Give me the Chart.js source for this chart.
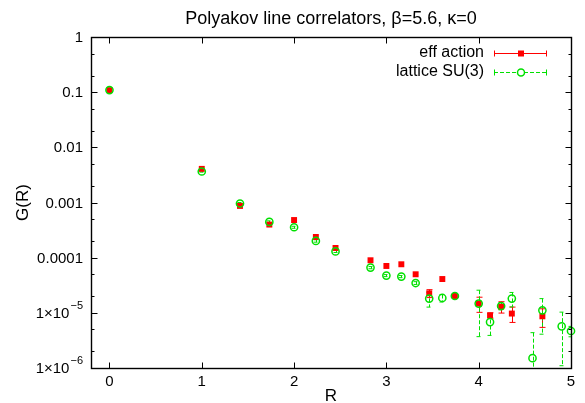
<!DOCTYPE html>
<html>
<head>
<meta charset="utf-8">
<script src="https://cdn.jsdelivr.net/npm/chart.js@4.4.1/dist/chart.umd.min.js"></script>
<style>
  html, body { margin: 0; padding: 0; background: #fff; }
  #wrap { width: 585px; height: 403px; }
</style>
</head>
<body>
<div id="wrap"><canvas id="corr" width="585" height="403"></canvas></div>
<script>
'use strict';

// ---------------------------------------------------------------------------
// data
// ---------------------------------------------------------------------------

const TITLE   = 'Polyakov line correlators, β=5.6, κ=0';
const X_LABEL = 'R';
const Y_LABEL = 'G(R)';

const EFF_LABEL = 'eff action';
const LAT_LABEL = 'lattice SU(3)';

// eff action
const effR   = [0, 1, 1.414, 1.732, 2, 2.236, 2.449, 2.828, 3, 3.162, 3.317, 3.464, 3.606, 3.742, 4, 4.123, 4.243, 4.359, 4.690];
const effG   = [0.109, 0.00407, 0.000867, 0.000398, 0.000481, 0.000237, 0.000150, 8.97e-5, 7.07e-5, 7.59e-5, 5.0e-5,
                2.26e-5, 4.1e-5, 2.02e-5, 1.47e-5, 9.0e-6, 1.29e-5, 9.7e-6, 8.65e-6];
const effErr = [0, 0, 0, 0, 0, 0, 0, 0, 0, 0, 0,
                3.7e-6, 0, 1.0e-6, 4.5e-6, 1.0e-6, 3.0e-6, 3.0e-6, 3.2e-6];

// lattice SU(3)
const latR   = [0, 1, 1.414, 1.732, 2, 2.236, 2.449, 2.828, 3, 3.162, 3.317, 3.464, 3.606, 3.742, 4, 4.123, 4.243, 4.359, 4.583, 4.690, 4.899, 5];
const latG   = [0.109, 0.00365, 0.00096, 0.000445, 0.000356, 0.000201, 0.000130, 6.6e-5, 4.73e-5, 4.54e-5, 3.47e-5,
                1.81e-5, 1.86e-5, 2.02e-5, 1.47e-5, 6.8e-6, 1.33e-5, 1.81e-5, 1.51e-6, 1.11e-5, 5.7e-6, 4.68e-6];
const latErr = [0.002, 1e-4, 4e-5, 2e-5, 1.5e-5, 1e-5, 6e-6, 3e-6, 2e-6, 2e-6, 2e-6,
                5.4e-6, 2.9e-6, 1.5e-6, 1.1e-5, 2.9e-6, 2.0e-6, 5.3e-6, 2.86e-6, 7.0e-6, 4.6e-6, 1.0e-6];

// axes
const xTicks       = [0, 1, 2, 3, 4, 5];
const yTicks       = [1, 0.1, 0.01, 0.001, 0.0001, 1e-5, 1e-6];
const yTickLabels  = ['1', '0.1', '0.01', '0.001', '0.0001', '1×10|−5', '1×10|−6'];
const yMinorTicks  = [0.5, 0.2, 0.05, 0.02, 0.005, 0.002, 5e-4, 2e-4, 5e-5, 2e-5, 5e-6, 2e-6];

// ---------------------------------------------------------------------------
// styles
// ---------------------------------------------------------------------------

const FONT    = "'Liberation Sans', Arial, Helvetica, sans-serif";
const RED     = '#ff0000';
const GREEN   = '#00e000';
const DASH    = [4, 2];
const AREA    = { left: 91, top: 37, right: 571, bottom: 368 };

const toPoints = (xs, ys) => xs.map((x, i) => ({ x, y: ys[i] }));

// ---------------------------------------------------------------------------
// plugins
// ---------------------------------------------------------------------------

function drawErrorBars(chart, dsIndex, errs, color, dash) {
    const ctx = chart.ctx;
    const xs = chart.scales.x, ys = chart.scales.y;
    const ca = chart.chartArea;
    const data = chart.data.datasets[dsIndex].data;
    ctx.save();
    ctx.beginPath();
    ctx.rect(ca.left, ca.top, ca.right - ca.left, ca.bottom - ca.top);
    ctx.clip();
    ctx.strokeStyle = color;
    ctx.lineWidth = 1;
    ctx.setLineDash(dash);
    data.forEach((p, i) => {
        const e = errs[i];
        if (!e) return;
        const x = Math.round(xs.getPixelForValue(p.x)) + 0.5;
        const hi = p.y + e, lo = p.y - e;
        const yHi = ys.getPixelForValue(hi);
        const yLo = lo > 0 ? ys.getPixelForValue(lo) : ca.bottom + 10;
        ctx.beginPath();
        ctx.moveTo(x, yHi);
        ctx.lineTo(x, yLo);
        ctx.moveTo(x - 3, yHi);
        ctx.lineTo(x + 3, yHi);
        if (lo > 0) {
            ctx.moveTo(x - 3, yLo);
            ctx.lineTo(x + 3, yLo);
        }
        ctx.stroke();
    });
    ctx.restore();
}

const errorBarPlugin = {
    id: 'errorBars',
    beforeDatasetsDraw(chart) {
        drawErrorBars(chart, 1, effErr, RED, []);
        drawErrorBars(chart, 0, latErr, GREEN, DASH);
    },
};

const framePlugin = {
    id: 'frame',
    afterDraw(chart) {
        const ctx = chart.ctx;
        const ca = chart.chartArea;
        const xs = chart.scales.x, ys = chart.scales.y;
        const L = Math.round(ca.left) + 0.5, R = Math.round(ca.right) + 0.5;
        const T = Math.round(ca.top) + 0.5,  B = Math.round(ca.bottom) + 0.5;
        ctx.save();
        ctx.strokeStyle = '#000';
        ctx.lineWidth = 1;
        ctx.beginPath();
        xTicks.forEach(v => {
            const x = Math.round(xs.getPixelForValue(v)) + 0.5;
            ctx.moveTo(x, B); ctx.lineTo(x, B - 6);
            ctx.moveTo(x, T); ctx.lineTo(x, T + 6);
        });
        const yTick = (v, len) => {
            const y = Math.round(ys.getPixelForValue(v)) + 0.5;
            ctx.moveTo(L, y); ctx.lineTo(L + len, y);
            ctx.moveTo(R, y); ctx.lineTo(R - len, y);
        };
        yTicks.forEach(v => yTick(v, 6));
        yMinorTicks.forEach(v => yTick(v, 3));
        ctx.stroke();
        ctx.lineWidth = 1.4;
        ctx.strokeRect(L, T, R - L, B - T);

        // y tick labels
        ctx.fillStyle = '#000';
        ctx.textBaseline = 'middle';
        ctx.textAlign = 'right';
        yTicks.forEach((v, i) => {
            const y = ys.getPixelForValue(v);
            const [base, exp] = yTickLabels[i].split('|');
            const xr = 83;
            if (exp) {
                ctx.font = `11px ${FONT}`;
                const w = ctx.measureText(exp).width;
                ctx.fillText(exp, xr, y - 7);
                ctx.font = `15px ${FONT}`;
                ctx.fillText(base, xr - w - 1, y + 1);
            } else {
                ctx.font = `15px ${FONT}`;
                ctx.fillText(base, xr, y + 1);
            }
        });

        // title and axis titles
        ctx.textAlign = 'center';
        ctx.textBaseline = 'alphabetic';
        ctx.font = `18px ${FONT}`;
        ctx.fillText(TITLE, (ca.left + ca.right) / 2, 24);
        ctx.font = `17px ${FONT}`;
        ctx.fillText(X_LABEL, (ca.left + ca.right) / 2, 401);
        ctx.save();
        ctx.translate(28, (ca.top + ca.bottom) / 2);
        ctx.rotate(-Math.PI / 2);
        ctx.fillText(Y_LABEL, 0, 0);
        ctx.restore();

        // legend
        const rows = [
            { label: EFF_LABEL, color: RED,   dash: [],   style: 'rect',   y: 53.5 },
            { label: LAT_LABEL, color: GREEN, dash: DASH, style: 'circle', y: 72.5 },
        ];
        rows.forEach(r => {
            ctx.font = `16px ${FONT}`;
            ctx.fillStyle = '#000';
            ctx.textAlign = 'right';
            ctx.textBaseline = 'alphabetic';
            ctx.fillText(r.label, 484, r.y + 3.5);
            ctx.strokeStyle = r.color;
            ctx.lineWidth = 1;
            ctx.setLineDash(r.dash);
            ctx.beginPath();
            ctx.moveTo(494, r.y); ctx.lineTo(547, r.y);
            ctx.stroke();
            ctx.setLineDash([]);
            ctx.beginPath();
            ctx.moveTo(494.5, r.y - 3); ctx.lineTo(494.5, r.y + 3);
            ctx.moveTo(546.5, r.y - 3); ctx.lineTo(546.5, r.y + 3);
            ctx.stroke();
            if (r.style === 'rect') {
                ctx.fillStyle = r.color;
                ctx.fillRect(518, r.y - 3, 6, 6);
            } else {
                ctx.lineWidth = 1.5;
                ctx.fillStyle = '#fff';
                ctx.beginPath();
                ctx.arc(521, r.y, 3.5, 0, Math.PI * 2);
                ctx.fill();
                ctx.stroke();
            }
        });
        ctx.restore();
    },
};

// ---------------------------------------------------------------------------
// chart
// ---------------------------------------------------------------------------

const chart = new Chart(document.getElementById('corr'), {
    type: 'scatter',
    data: {
        datasets: [
            {
                label: LAT_LABEL,
                data: toPoints(latR, latG),
                pointStyle: 'circle',
                pointRadius: 3.6,
                borderWidth: 1.5,
                borderColor: GREEN,
                backgroundColor: 'rgba(0,0,0,0)',
                order: 1,
                clip: false,
            },
            {
                label: EFF_LABEL,
                data: toPoints(effR, effG),
                pointStyle: 'rect',
                pointRadius: 4.2,
                borderWidth: 0,
                borderColor: RED,
                backgroundColor: RED,
                order: 2,
                clip: false,
            },
        ],
    },
    options: {
        responsive: false,
        animation: false,
        events: [],
        layout: { padding: { top: AREA.top, right: 585 - AREA.right, left: 0, bottom: 0 } },
        plugins: {
            legend: { display: false },
            tooltip: { enabled: false },
            title: { display: false },
        },
        scales: {
            x: {
                type: 'linear',
                min: -0.2,
                max: 5,
                grid: { display: false, drawTicks: false },
                border: { display: false },
                afterBuildTicks: (s) => { s.ticks = xTicks.map(v => ({ value: v })); },
                afterFit: (s) => { s.height = 403 - AREA.bottom; },
                ticks: {
                    padding: 5,
                    maxRotation: 0,
                    color: '#000',
                    font: { family: FONT, size: 15 },
                    callback: (v) => String(v),
                },
            },
            y: {
                type: 'logarithmic',
                min: 1e-6,
                max: 1,
                grid: { display: false, drawTicks: false },
                border: { display: false },
                afterBuildTicks: (s) => { s.ticks = yTicks.map(v => ({ value: v })); },
                afterFit: (s) => { s.width = AREA.left; },
                ticks: { display: false },
            },
        },
    },
    plugins: [errorBarPlugin, framePlugin],
});
</script>
</body>
</html>
